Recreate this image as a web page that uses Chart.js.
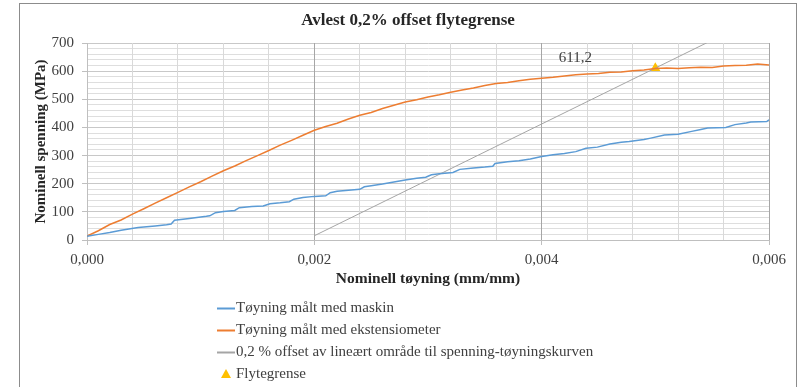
<!DOCTYPE html>
<html>
<head>
<meta charset="utf-8">
<script src="https://cdn.jsdelivr.net/npm/chart.js@4.4.1/dist/chart.umd.min.js"></script>
<style>
  html, body { margin: 0; padding: 0; background: #ffffff; }
  #wrap { position: relative; width: 807px; height: 387px; }
</style>
</head>
<body>
<div id="wrap"><canvas id="chart"></canvas></div>
<script>
// Stress-strain measured by the test machine (strain mm/mm, stress MPa)
const strainMachine = [0, 0.0001, 0.0002, 0.0003, 0.00045, 0.0006, 0.0007, 0.00074, 0.00077, 0.0009,
  0.00105, 0.00108, 0.00113, 0.0012, 0.0013, 0.00134, 0.00145, 0.00155, 0.00161, 0.0017,
  0.00178, 0.00182, 0.0019, 0.002, 0.0021, 0.00214, 0.0022, 0.0023, 0.0024, 0.00244,
  0.0025, 0.0026, 0.0027, 0.0028, 0.0029, 0.00298, 0.00303, 0.0031, 0.00322, 0.00328,
  0.0034, 0.0035, 0.00357, 0.00359, 0.0037, 0.0038, 0.0039, 0.004, 0.0041, 0.0042,
  0.0043, 0.00439, 0.00449, 0.0046, 0.0047, 0.00477, 0.0049, 0.00496, 0.00508, 0.0052,
  0.00532, 0.0054, 0.00546, 0.00562, 0.0057, 0.0058, 0.00584, 0.00598, 0.006];
const stressMachine = [13, 20, 27, 35, 44, 50, 54, 57, 70, 76,
  84, 86, 97, 101, 105, 115, 119, 121, 129, 132,
  136, 145, 151, 155, 157, 168, 173, 177, 180, 189,
  193, 199, 206, 213, 219, 223, 232, 235, 240, 251,
  256, 259, 262, 272, 278, 282, 288, 297, 303, 307,
  314, 326, 330, 341, 347, 350, 357, 362, 373, 376,
  386, 393, 398, 400, 410, 416, 419, 421, 427];

// Stress-strain measured with the extensometer
const strainExt = [0, 0.0001, 0.0002, 0.0003, 0.0004, 0.0005, 0.0006, 0.0007, 0.0008, 0.0009,
  0.001, 0.0011, 0.0012, 0.0013, 0.0014, 0.0015, 0.0016, 0.0017, 0.0018, 0.0019,
  0.002, 0.0021, 0.0022, 0.0023, 0.0024, 0.0025, 0.0026, 0.0027, 0.0028, 0.0029,
  0.003, 0.0031, 0.0032, 0.0033, 0.0034, 0.0035, 0.0036, 0.0037, 0.0038, 0.0039,
  0.004, 0.0041, 0.0042, 0.0043, 0.0044, 0.0045, 0.0046, 0.0047, 0.0048, 0.0049,
  0.005, 0.0051, 0.0052, 0.0053, 0.0054, 0.0055, 0.0056, 0.0057, 0.0058, 0.0059, 0.006];
const stressExt = [14, 33, 55, 71, 92, 111, 131, 150, 169, 189,
  207, 227, 246, 263, 282, 300, 318, 337, 354, 372,
  390, 403, 415, 430, 443, 453, 467, 479, 490, 498,
  508, 516, 525, 533, 540, 549, 556, 560, 566, 571,
  575, 578, 583, 587, 590, 592, 596, 597, 601, 604,
  609, 611, 609, 612, 614, 613, 618, 620, 621, 625, 622];

// 0.2 % offset line parallel to the linear part
const offsetStrain = [0.002, 0.0056];
const offsetStress = [15, 730];

// Read-off yield point
const yieldStrain = [0.005];
const yieldStress = [611.2];

// Axis tick labels
const xTickLabels = ['0,000', '0,002', '0,004', '0,006'];
const yTickLabels = ['0', '100', '200', '300', '400', '500', '600', '700'];

const chartTitle = 'Avlest 0,2% offset flytegrense';
const seriesLabels = [
  'Tøyning målt med maskin',
  'Tøyning målt med ekstensiometer',
  '0,2 % offset av lineært område til spenning-tøyningskurven',
  'Flytegrense'
];

const FONT = "'Liberation Serif', 'Times New Roman', serif";
const toPoints = (xs, ys) => xs.map((x, i) => ({ x: x, y: ys[i] }));
const isMajorX = v => Math.round(v * 10000) % 20 === 0;
const isMajorY = v => Math.round(v) % 100 === 0;

// Frame around the whole chart, with the title centred inside it
const framePlugin = {
  id: 'frame',
  beforeDraw(chart) {
    const ctx = chart.ctx;
    ctx.save();
    ctx.fillStyle = '#ffffff';
    ctx.fillRect(0, 0, chart.width, chart.height);
    ctx.strokeStyle = '#8c8c8c';
    ctx.lineWidth = 1;
    ctx.strokeRect(19.5, 3.5, 777, 400);
    ctx.font = 'bold 17px ' + FONT;
    ctx.fillStyle = '#262626';
    ctx.textAlign = 'center';
    ctx.textBaseline = 'middle';
    ctx.fillText(chartTitle, 408, 21);
    ctx.restore();
  }
};

// Value label beside the yield point
const yieldLabelPlugin = {
  id: 'yieldLabel',
  afterDatasetsDraw(chart) {
    const meta = chart.getDatasetMeta(3);
    const pt = meta.data[0];
    if (!pt) return;
    const ctx = chart.ctx;
    ctx.save();
    ctx.font = '15px ' + FONT;
    ctx.fillStyle = '#404040';
    ctx.textAlign = 'center';
    ctx.textBaseline = 'middle';
    ctx.fillText(yieldStress[0].toFixed(1).replace('.', ','), pt.x - 80, pt.y - 10);
    ctx.restore();
  }
};

// Stacked legend under the axis title
const stackedLegendPlugin = {
  id: 'stackedLegend',
  afterDraw(chart) {
    const ctx = chart.ctx;
    const x0 = 217, y0 = 308, gap = 22;
    ctx.save();
    ctx.font = '15px ' + FONT;
    ctx.textBaseline = 'middle';
    ctx.textAlign = 'left';
    chart.data.datasets.forEach((ds, i) => {
      const y = y0 + i * gap;
      if (ds.pointStyle === 'triangle') {
        ctx.fillStyle = ds.backgroundColor;
        ctx.beginPath();
        ctx.moveTo(x0 + 9, y - 5);
        ctx.lineTo(x0 + 14, y + 4);
        ctx.lineTo(x0 + 4, y + 4);
        ctx.closePath();
        ctx.fill();
      } else {
        ctx.strokeStyle = ds.borderColor;
        ctx.lineWidth = 2;
        ctx.beginPath();
        ctx.moveTo(x0, y + 0.5);
        ctx.lineTo(x0 + 18, y + 0.5);
        ctx.stroke();
      }
      ctx.fillStyle = '#404040';
      ctx.fillText(ds.label, x0 + 19, y);
    });
    ctx.restore();
  }
};

new Chart(document.getElementById('chart'), {
  type: 'scatter',
  data: {
    datasets: [
      {
        label: seriesLabels[0],
        data: toPoints(strainMachine, stressMachine),
        showLine: true,
        borderColor: '#5b9bd5',
        backgroundColor: '#5b9bd5',
        borderWidth: 1.5,
        pointRadius: 0,
        tension: 0
      },
      {
        label: seriesLabels[1],
        data: toPoints(strainExt, stressExt),
        showLine: true,
        borderColor: '#ed7d31',
        backgroundColor: '#ed7d31',
        borderWidth: 1.5,
        pointRadius: 0,
        tension: 0
      },
      {
        label: seriesLabels[2],
        data: toPoints(offsetStrain, offsetStress),
        showLine: true,
        borderColor: '#a5a5a5',
        backgroundColor: '#a5a5a5',
        borderWidth: 1,
        pointRadius: 0,
        tension: 0
      },
      {
        label: seriesLabels[3],
        data: toPoints(yieldStrain, yieldStress),
        showLine: false,
        pointStyle: 'triangle',
        pointRadius: 5.8,
        backgroundColor: '#ffc000',
        borderColor: '#ffc000',
        borderWidth: 0
      }
    ]
  },
  options: {
    responsive: true,
    maintainAspectRatio: false,
    animation: false,
    layout: { padding: { left: 20, right: 38, top: 43, bottom: 97 } },
    plugins: {
      legend: { display: false },
      tooltip: { enabled: false },
      title: { display: false }
    },
    scales: {
      x: {
        type: 'linear',
        min: 0,
        max: 0.006,
        afterFit(scale) { scale.height = 50; },
        ticks: {
          stepSize: 0.0004,
          autoSkip: false,
          maxRotation: 0,
          color: '#404040',
          font: { family: FONT, size: 15 },
          padding: 6,
          callback(v) {
            if (!isMajorX(v)) return '';
            return xTickLabels[Math.round(v * 10000) / 20];
          }
        },
        grid: {
          z: -1,
          color: c => isMajorX(c.tick.value) ? '#a6a6a6' : '#d9d9d9',
          tickColor: c => isMajorX(c.tick.value) ? '#bfbfbf' : 'rgba(0,0,0,0)',
          tickLength: 5,
          lineWidth: 1
        },
        border: { color: '#bfbfbf' },
        title: {
          display: true,
          text: 'Nominell tøyning (mm/mm)',
          color: '#262626',
          font: { family: FONT, size: 15.5, weight: 'bold' },
          padding: { top: 0, bottom: 2 }
        }
      },
      y: {
        min: 0,
        max: 700,
        afterFit(scale) { scale.width = 67; },
        ticks: {
          stepSize: 20,
          autoSkip: false,
          color: '#404040',
          font: { family: FONT, size: 15 },
          padding: 8,
          callback(v) {
            if (!isMajorY(v)) return '';
            return yTickLabels[Math.round(v) / 100];
          }
        },
        grid: {
          z: -2,
          color: c => isMajorY(c.tick.value) ? '#c8c8c8' : '#dedede',
          tickColor: c => isMajorY(c.tick.value) ? '#bfbfbf' : 'rgba(0,0,0,0)',
          tickLength: 5,
          lineWidth: 1
        },
        border: { color: '#bfbfbf' },
        title: {
          display: true,
          text: 'Nominell spenning (MPa)',
          color: '#262626',
          font: { family: FONT, size: 15, weight: 'bold' },
          padding: { top: 12, bottom: 0 }
        }
      }
    }
  },
  plugins: [framePlugin, yieldLabelPlugin, stackedLegendPlugin]
});
</script>
</body>
</html>
